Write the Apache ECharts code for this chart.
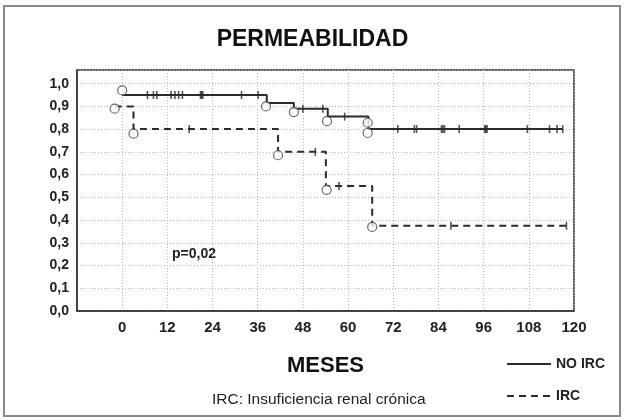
<!DOCTYPE html>
<html>
<head>
<meta charset="utf-8">
<script src="https://cdn.jsdelivr.net/npm/echarts@6/dist/echarts.min.js"></script>
<style>
  html, body { margin: 0; padding: 0; background: #fff; }
  #chart { width: 625px; height: 420px; }
</style>
</head>
<body>
<div id="chart"></div>
<script>
// Kaplan-Meier steps: time (months) where each level starts, and the level
var noIrcTimes = [0, 38.4, 45.6, 54.6, 65.4, 117]
var noIrcSurv = [0.95, 0.915, 0.89, 0.855, 0.80, 0.80]
var ircTimes = [-2, 3, 41.4, 54.1, 66.4, 118]
var ircSurv = [0.90, 0.80, 0.70, 0.55, 0.375, 0.375]

// events (open circles)
var noIrcEventT = [0, 38.2, 45.6, 54.4, 65.2, 65.2]
var noIrcEventS = [0.97, 0.90, 0.875, 0.835, 0.828, 0.783]
var ircEventT = [-2, 3, 41.4, 54.3, 66.4]
var ircEventS = [0.89, 0.78, 0.685, 0.533, 0.37]

// censored cases (small ticks)
var noIrcCensT = [6.7, 8.3, 9.2, 13.0, 14.0, 15.0, 16.0, 20.8, 21.1, 21.4, 31.7, 36.1,
  48.0, 53.3, 59.1, 73.2, 77.6, 78.2, 84.8, 85.2, 85.6, 89.5, 96.3, 96.6, 96.9,
  107.6, 113.5, 115.5, 117]
var ircCensT = [17.8, 51.3, 57.6, 87.3, 118]

function levelAt (times, surv, t) {
  var v = surv[0]
  for (var i = 0; i < times.length; i++) {
    if (times[i] <= t) v = surv[i]
  }
  return v
}
function pairs (a, b) {
  return a.map(function (t, i) { return [t, b[i]] })
}

var ink = '#2b2b2b'
var chart = echarts.init(document.getElementById('chart'))

var option = {
  backgroundColor: '#fff',
  animation: false,
  title: [{
    text: 'PERMEABILIDAD',
    left: 'center',
    top: 28,
    padding: 0,
    textStyle: { fontFamily: 'Liberation Sans', fontWeight: 'bold', fontSize: 23, color: '#111' }
  }, {
    text: 'IRC: Insuficiencia renal crónica',
    left: 212,
    top: 392,
    padding: 0,
    textStyle: { fontFamily: 'Liberation Sans', fontWeight: 'normal', fontSize: 15.5, color: '#222' }
  }],
  legend: {
    data: ['NO IRC', 'IRC'],
    orient: 'vertical',
    left: 506,
    top: 357,
    itemWidth: 44,
    itemHeight: 12,
    itemGap: 18,
    padding: 0,
    itemStyle: { color: 'rgba(0,0,0,0)', borderWidth: 0 },
    textStyle: { fontFamily: 'Liberation Sans', fontWeight: 'bold', fontSize: 14, color: '#222' }
  },
  grid: {
    left: 77,
    right: 51,
    top: 70,
    bottom: 109,
    show: true,
    borderColor: '#333',
    borderWidth: 1.5
  },
  xAxis: {
    type: 'value',
    min: -12,
    max: 120,
    interval: 12,
    name: 'MESES',
    nameLocation: 'middle',
    nameGap: 44,
    nameTextStyle: { fontFamily: 'Liberation Sans', fontWeight: 'bold', fontSize: 22, color: '#111' },
    axisLine: { show: true, onZero: false, lineStyle: { color: '#333', width: 1.5 } },
    axisTick: { show: false },
    axisLabel: {
      margin: 9,
      fontFamily: 'Liberation Sans Narrow, Liberation Sans',
      fontWeight: 'bold',
      fontSize: 15,
      color: '#222',
      formatter: function (v) { return v < 0 ? '' : String(v) }
    },
    splitLine: { show: true, lineStyle: { color: '#bbb', type: [1, 2], width: 1 } }
  },
  yAxis: {
    type: 'value',
    min: 0,
    max: 1.06,
    interval: 0.1,
    axisLine: { show: true, onZero: false, lineStyle: { color: '#333', width: 1.5 } },
    axisTick: { show: false },
    axisLabel: {
      margin: 8,
      padding: [0, 0, 8, 0],
      fontFamily: 'Liberation Sans',
      fontWeight: 'bold',
      fontSize: 14,
      color: '#222',
      formatter: function (v) { return v > 1.001 ? '' : v.toFixed(1).replace('.', ',') }
    },
    splitLine: { show: true, lineStyle: { color: '#bbb', type: [1, 2], width: 1 } }
  },
  graphic: [{
    type: 'rect',
    shape: { x: 4, y: 6, width: 616, height: 410 },
    style: { fill: 'none', stroke: '#8a8a8a', lineWidth: 2 },
    z: -1
  }, {
    type: 'text',
    left: 172,
    top: 247,
    style: { text: 'p=0,02', font: 'bold 14px "Liberation Sans"', fill: '#222' }
  }],
  series: [{
    name: 'NO IRC',
    type: 'line',
    step: 'end',
    symbol: 'none',
    color: ink,
    lineStyle: { color: ink, width: 2 },
    data: pairs(noIrcTimes, noIrcSurv),
    z: 2
  }, {
    name: 'IRC',
    type: 'line',
    step: 'end',
    symbol: 'none',
    color: ink,
    lineStyle: { color: ink, width: 2, type: [7, 5] },
    data: pairs(ircTimes, ircSurv),
    z: 2
  }, {
    name: 'censurados',
    type: 'scatter',
    symbol: 'rect',
    symbolSize: [1.6, 8],
    itemStyle: { color: ink },
    data: noIrcCensT.map(function (t) { return [t, levelAt(noIrcTimes, noIrcSurv, t)] })
      .concat(ircCensT.map(function (t) { return [t, levelAt(ircTimes, ircSurv, t)] })),
    z: 3
  }, {
    name: 'eventos',
    type: 'scatter',
    symbol: 'circle',
    symbolSize: 9,
    itemStyle: { color: '#fff', borderColor: '#444', borderWidth: 1.2 },
    data: pairs(noIrcEventT, noIrcEventS).concat(pairs(ircEventT, ircEventS)),
    z: 4
  }]
}
chart.setOption(option)
</script>
</body>
</html>
